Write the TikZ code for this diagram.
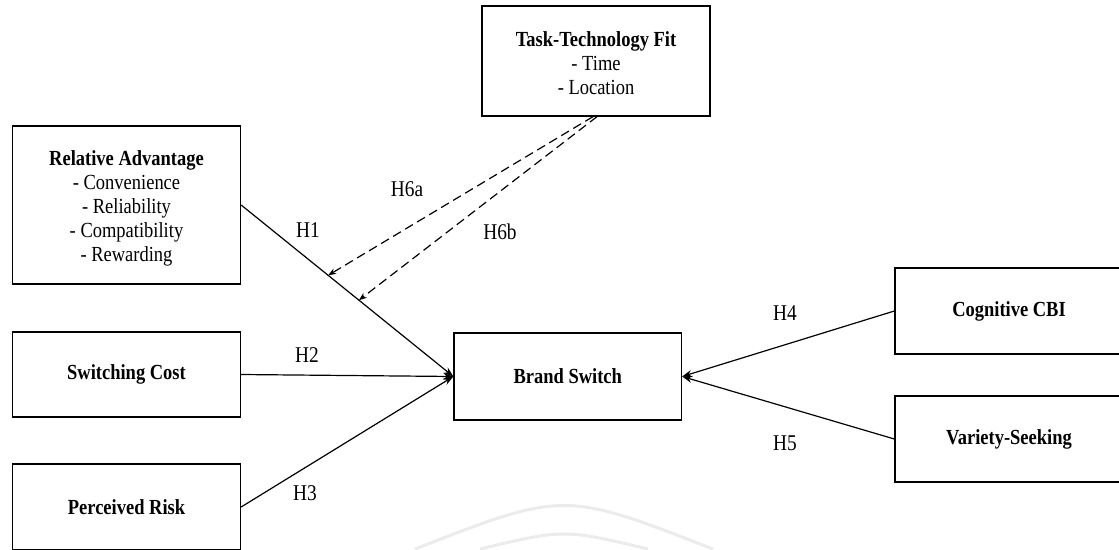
\documentclass[tikz,border=0pt]{standalone}
\usepackage{fontspec}
\setmainfont{Liberation Serif}[FakeStretch=0.86]
\usetikzlibrary{arrows.meta,calc}
\begin{document}
\begin{tikzpicture}[x=1pt,y=-1pt]
\tikzset{
  box/.style={draw, line width=1.3pt, inner sep=0pt, align=center,
              font=\fontsize{21.5}{24}\selectfont},
  link/.style={line width=1.2pt, -{Stealth[length=10pt,width=7pt]}},
  modlink/.style={line width=1.2pt, dash pattern=on 9pt off 5pt,
                  -{Stealth[length=8pt,width=6pt]}},
  hyp/.style={font=\fontsize{22.5}{24}\selectfont, inner sep=0pt},
  faint/.style={draw=black!8, line width=3pt}
}
\useasboundingbox (0,0) rectangle (1119,549);

% faint background arcs
\draw[faint] (415,549) .. controls (564,491) .. (713,549);
\draw[faint] (480,549) .. controls (564,529) .. (648,549);

% constructs (the struts lower the multi-line texts a little)
\node[box, minimum width=228pt, minimum height=110pt] (tf) at (596,61)
  {\rule{0pt}{19pt}\textbf{Task-Technology Fit}\\- Time\\- Location};
\node[box, minimum width=228pt, minimum height=158pt] (ra) at (126.5,205)
  {\rule{0pt}{21pt}\textbf{Relative Advantage}\\- Convenience\\- Reliability\\- Compatibility\\- Rewarding};
\node[box, minimum width=228pt, minimum height=85pt] (sc) at (126.5,374.5)
  {\textbf{Switching Cost}};
\node[box, minimum width=228pt, minimum height=86pt] (pr) at (126.5,507)
  {\textbf{Perceived Risk}};
\node[box, minimum width=227.5pt, minimum height=87pt] (bs) at (567.75,376.5)
  {\textbf{Brand Switch}};
\node[box, minimum width=228pt, minimum height=86pt] (cbi) at (1009,311)
  {\textbf{Cognitive CBI}};
\node[box, minimum width=228pt, minimum height=86pt] (vs) at (1009,439)
  {\textbf{Variety-Seeking}};

% direct effects
\draw[link] (ra.east) -- (bs.west);
\draw[link] (sc.east) -- (bs.west);
\draw[link] (pr.east) -- (bs.west);
\draw[link] (cbi.west) -- (bs.east);
\draw[link] (vs.west) -- (bs.east);

% moderating effects on the H1 path
\coordinate (h6a) at ($(ra.east)!0.41!(bs.west)$);
\coordinate (h6b) at ($(ra.east)!0.555!(bs.west)$);
\draw[modlink] ([xshift=-3pt]tf.south) -- (h6a);
\draw[modlink] ([xshift=1pt]tf.south) -- (h6b);

% hypothesis labels
\node[hyp] (lh1) at (308,230) {H1};
\node[hyp] (lh2) at (307,355) {H2};
\node[hyp] (lh3) at (305,493) {H3};
\node[hyp] (lh4) at (785,313) {H4};
\node[hyp] (lh5) at (785,443) {H5};
\node[hyp] (lh6a) at (407,189) {H6a};
\node[hyp] (lh6b) at (500,232) {H6b};
\end{tikzpicture}
\end{document}
